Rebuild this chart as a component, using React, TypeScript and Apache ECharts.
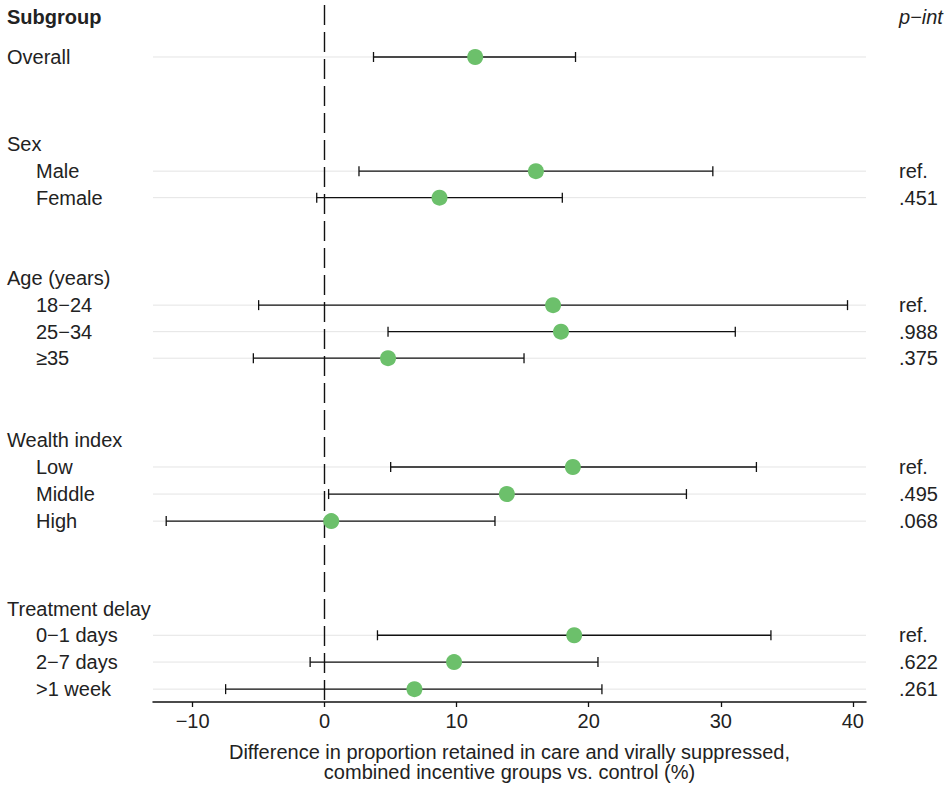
import React, { useEffect, useRef } from 'react';
import * as echarts from 'echarts';

// ---- Data ----
const rowLabels = ['Overall', 'Male', 'Female', '18−24', '25−34', '≥35', 'Low', 'Middle', 'High', '0−1 days', '2−7 days', '>1 week'];
const rowIndented = [false, true, true, true, true, true, true, true, true, true, true, true];
const estimates = [11.4, 16.0, 8.7, 17.3, 17.9, 4.8, 18.8, 13.8, 0.5, 18.9, 9.8, 6.8];
const lowerCI = [3.7, 2.6, -0.6, -5.0, 4.8, -5.4, 5.0, 0.3, -12.0, 4.0, -1.1, -7.5];
const upperCI = [19.0, 29.4, 18.0, 39.6, 31.1, 15.1, 32.7, 27.4, 12.9, 33.8, 20.7, 21.0];
const pInt = ['', 'ref.', '.451', 'ref.', '.988', '.375', 'ref.', '.495', '.068', 'ref.', '.622', '.261'];
const groupHeaders = ['Sex', 'Age (years)', 'Wealth index', 'Treatment delay'];
const xTicks = [-10, 0, 10, 20, 30, 40];
const columnTitleLeft = 'Subgroup';
const columnTitleRight = 'p−int';
const xTitle = 'Difference in proportion retained in care and virally suppressed,\ncombined incentive groups vs. control (%)';

// ---- Layout (row positions in row units, header row = 0) ----
const rowPos = [1.49, 5.75, 6.74, 10.75, 11.74, 12.73, 16.79, 17.8, 18.81, 23.07, 24.07, 25.08];
const headerPos = [4.74, 9.74, 15.78, 22.09];
const yMin = -0.45;
const yMax = 25.56;
const xMin = -13;
const xMax = 41;

const FONT = 'Liberation Sans, Arial, Helvetica, sans-serif';
const TXT = '#222';

const key = (v: number) => v.toFixed(2);

export default function App() {
  const ref = useRef<HTMLDivElement>(null);

  useEffect(() => {
    const chart = echarts.init(ref.current!, null, { renderer: 'svg' });

    const leftMap = new Map<string, string>();
    leftMap.set(key(0), `{h|${columnTitleLeft}}`);
    rowPos.forEach((p, i) => leftMap.set(key(p), rowIndented[i] ? `{i|${rowLabels[i]}}` : `{g|${rowLabels[i]}}`));
    headerPos.forEach((p, i) => leftMap.set(key(p), `{g|${groupHeaders[i]}}`));
    const leftValues = [0, ...rowPos, ...headerPos];

    const rightMap = new Map<string, string>();
    rightMap.set(key(0), `{pi|${columnTitleRight}}`);
    const rightValues: number[] = [0];
    rowPos.forEach((p, i) => {
      if (pInt[i]) {
        rightMap.set(key(p), `{g|${pInt[i]}}`);
        rightValues.push(p);
      }
    });

    const rich = {
      h: { fontSize: 20, fontWeight: 'bold', color: TXT, fontFamily: FONT },
      g: { fontSize: 20, color: TXT, fontFamily: FONT },
      i: { fontSize: 20, color: TXT, fontFamily: FONT, padding: [0, 0, 0, 29] },
      pi: { fontSize: 20, fontStyle: 'italic', color: TXT, fontFamily: FONT },
    };

    const barStyle = { stroke: '#111', lineWidth: 1.3 };

    const option: any = {
      animation: false,
      backgroundColor: '#fff',
      grid: { left: 153, right: 82, top: 5, bottom: 88 },
      xAxis: {
        type: 'value',
        min: xMin,
        max: xMax,
        axisLine: { show: true, onZero: false, lineStyle: { color: '#111', width: 1.5 } },
        axisTick: { show: true, customValues: xTicks, length: 5, lineStyle: { color: '#111', width: 1.3 } },
        axisLabel: {
          customValues: xTicks,
          fontSize: 20,
          color: TXT,
          fontFamily: FONT,
          margin: 9,
          formatter: (v: number) => (v < 0 ? '−' + Math.abs(v) : String(v)),
        },
        splitLine: { show: false },
        name: xTitle,
        nameLocation: 'middle',
        nameGap: 40,
        nameTextStyle: { fontSize: 20, color: TXT, fontFamily: FONT, lineHeight: 20 },
      },
      yAxis: [
        {
          type: 'value',
          inverse: true,
          min: yMin,
          max: yMax,
          position: 'left',
          axisLine: { show: false },
          axisTick: { show: false },
          splitLine: { show: false },
          axisLabel: {
            customValues: leftValues,
            align: 'left',
            margin: 146,
            formatter: (v: number) => leftMap.get(key(v)) || '',
            rich,
          },
        },
        {
          type: 'value',
          inverse: true,
          min: yMin,
          max: yMax,
          position: 'right',
          axisLine: { show: false },
          axisTick: { show: false },
          splitLine: { show: false },
          axisLabel: {
            customValues: rightValues,
            align: 'left',
            margin: 33,
            formatter: (v: number) => rightMap.get(key(v)) || '',
            rich,
          },
        },
      ],
      series: [
        {
          type: 'custom',
          name: 'gridlines',
          silent: true,
          z: 1,
          data: rowPos.map((p) => [xMin, xMax, p]),
          encode: { x: [0, 1], y: 2 },
          renderItem: (params: any, api: any) => {
            const a = api.coord([api.value(0), api.value(2)]);
            const b = api.coord([api.value(1), api.value(2)]);
            return {
              type: 'line',
              shape: { x1: a[0], y1: a[1], x2: b[0], y2: b[1] },
              style: { stroke: '#e4e4e4', lineWidth: 1 },
            };
          },
        },
        {
          type: 'custom',
          name: 'ci',
          silent: true,
          z: 3,
          data: rowPos.map((p, i) => [lowerCI[i], upperCI[i], p]),
          encode: { x: [0, 1], y: 2 },
          renderItem: (params: any, api: any) => {
            const lo = api.coord([api.value(0), api.value(2)]);
            const hi = api.coord([api.value(1), api.value(2)]);
            const h = 5;
            return {
              type: 'group',
              children: [
                { type: 'line', shape: { x1: lo[0], y1: lo[1], x2: hi[0], y2: hi[1] }, style: barStyle },
                { type: 'line', shape: { x1: lo[0], y1: lo[1] - h, x2: lo[0], y2: lo[1] + h }, style: barStyle },
                { type: 'line', shape: { x1: hi[0], y1: hi[1] - h, x2: hi[0], y2: hi[1] + h }, style: barStyle },
              ],
            };
          },
        },
        {
          type: 'scatter',
          name: 'estimate',
          z: 4,
          symbol: 'circle',
          symbolSize: 16,
          itemStyle: { color: '#6cc06b', opacity: 1 },
          data: rowPos.map((p, i) => [estimates[i], p]),
          markLine: {
            silent: true,
            symbol: ['none', 'none'],
            label: { show: false },
            lineStyle: { color: '#111', width: 1.4, type: [20, 7] },
            data: [{ xAxis: 0 }],
            z: 2,
          },
        },
      ],
    };

    chart.setOption(option);
    return () => chart.dispose();
  }, []);

  return <div ref={ref} style={{ position: 'fixed', left: 0, top: 0, width: 948, height: 790 }} />;
}
